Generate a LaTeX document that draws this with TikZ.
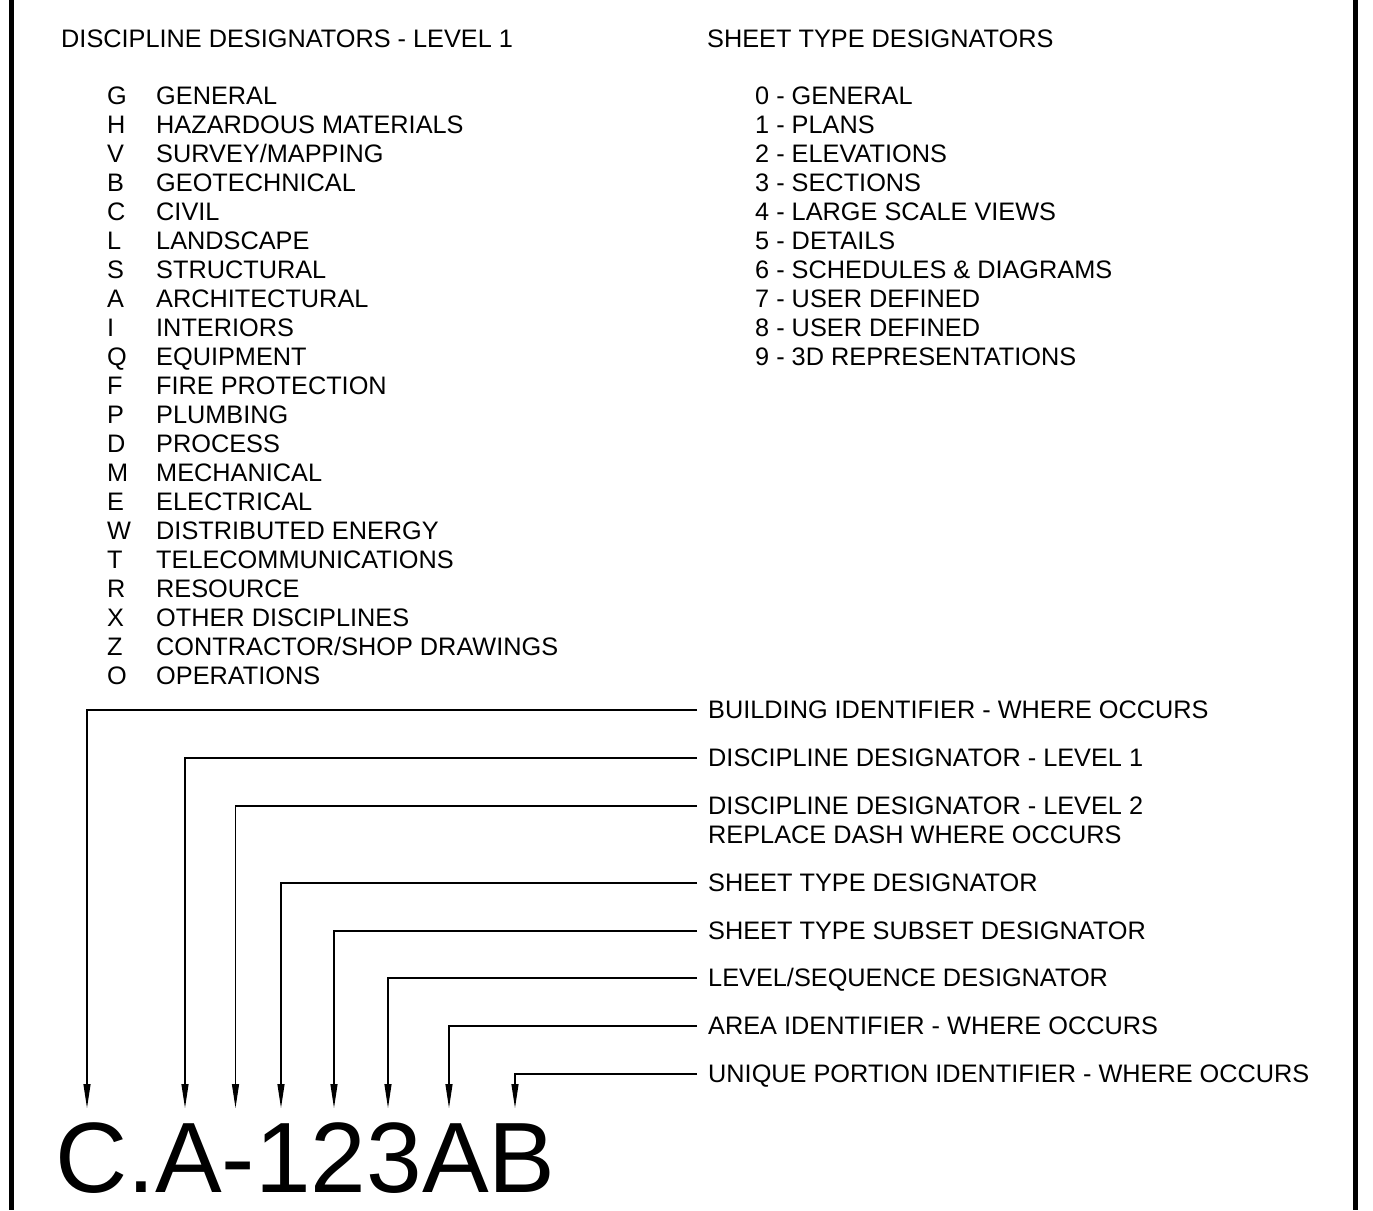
\documentclass[tikz,border=0pt]{standalone}
\usepackage{fontspec}
\setmainfont{Liberation Sans}
\usetikzlibrary{arrows.meta}
\begin{document}
\begin{tikzpicture}[x=1pt,y=-1pt,
  txt/.style={anchor=base west,inner sep=0pt,font=\fontsize{25.3}{29}\selectfont},
  leader/.style={draw=black,line width=1.1pt,-{Triangle[length=24pt,width=7pt]}},
  frame/.style={draw=black,line width=4.5pt}]
\useasboundingbox (0,0) rectangle (1373,1210);
% frame
\draw[frame] (11.5,0) -- (11.5,1210);
\draw[frame] (1355.5,0) -- (1355.5,1210);
% headers
\node[txt] (h1) at (61,47.5) {DISCIPLINE DESIGNATORS - LEVEL 1};
\node[txt] (h2) at (707,47.5) {SHEET TYPE DESIGNATORS};
% discipline list
\foreach \c/\n [count=\i from 0] in {G/GENERAL,H/HAZARDOUS MATERIALS,V/SURVEY\slash MAPPING,B/GEOTECHNICAL,C/CIVIL,L/LANDSCAPE,S/STRUCTURAL,A/ARCHITECTURAL,I/INTERIORS,Q/EQUIPMENT,F/FIRE PROTECTION,P/PLUMBING,D/PROCESS,M/MECHANICAL,E/ELECTRICAL,W/DISTRIBUTED ENERGY,T/TELECOMMUNICATIONS,R/RESOURCE,X/OTHER DISCIPLINES,Z/CONTRACTOR\slash SHOP DRAWINGS,O/OPERATIONS}{
  \node[txt] (dl\i) at (107,104.5+29*\i) {\c};
  \node[txt] (dn\i) at (156,104.5+29*\i) {\n};
}
% sheet type list
\foreach \n [count=\i from 0] in {GENERAL,PLANS,ELEVATIONS,SECTIONS,LARGE SCALE VIEWS,DETAILS,SCHEDULES \& DIAGRAMS,USER DEFINED,USER DEFINED,3D REPRESENTATIONS}{
  \node[txt] (st\i) at (755,104.5+29*\i) {\i\ - \n};
}
% labels
\node[txt] (l1) at (708,718.5) {BUILDING IDENTIFIER - WHERE OCCURS};
\node[txt] (l2) at (708,766.5) {DISCIPLINE DESIGNATOR - LEVEL 1};
\node[txt] (l3) at (708,814.5) {DISCIPLINE DESIGNATOR - LEVEL 2};
\node[txt] (l3b) at (708,843.5) {REPLACE DASH WHERE OCCURS};
\node[txt] (l4) at (708,891.5) {SHEET TYPE DESIGNATOR};
\node[txt] (l5) at (708,939.5) {SHEET TYPE SUBSET DESIGNATOR};
\node[txt] (l6) at (708,986.5) {LEVEL/SEQUENCE DESIGNATOR};
\node[txt] (l7) at (708,1034.5) {AREA IDENTIFIER - WHERE OCCURS};
\node[txt] (l8) at (708,1082.5) {UNIQUE PORTION IDENTIFIER - WHERE OCCURS};
% big code
\node[anchor=base west,inner sep=0pt,text depth=0pt,font=\fontsize{100}{100}\selectfont] (code) at (55,1192) {C.A-123AB};
% leader start and tip coordinates
\foreach \i/\y/\x in {1/710/87,2/758/185,3/806/235.5,4/883/281,5/931/334,6/978/388,7/1026/449,8/1074/515}{
  \coordinate (s\i) at (697,\y);
  \coordinate (t\i) at (\x,1108);
}
\foreach \i in {1,...,8}{
  \draw[leader] (s\i) -| (t\i);
}
\end{tikzpicture}
\end{document}
